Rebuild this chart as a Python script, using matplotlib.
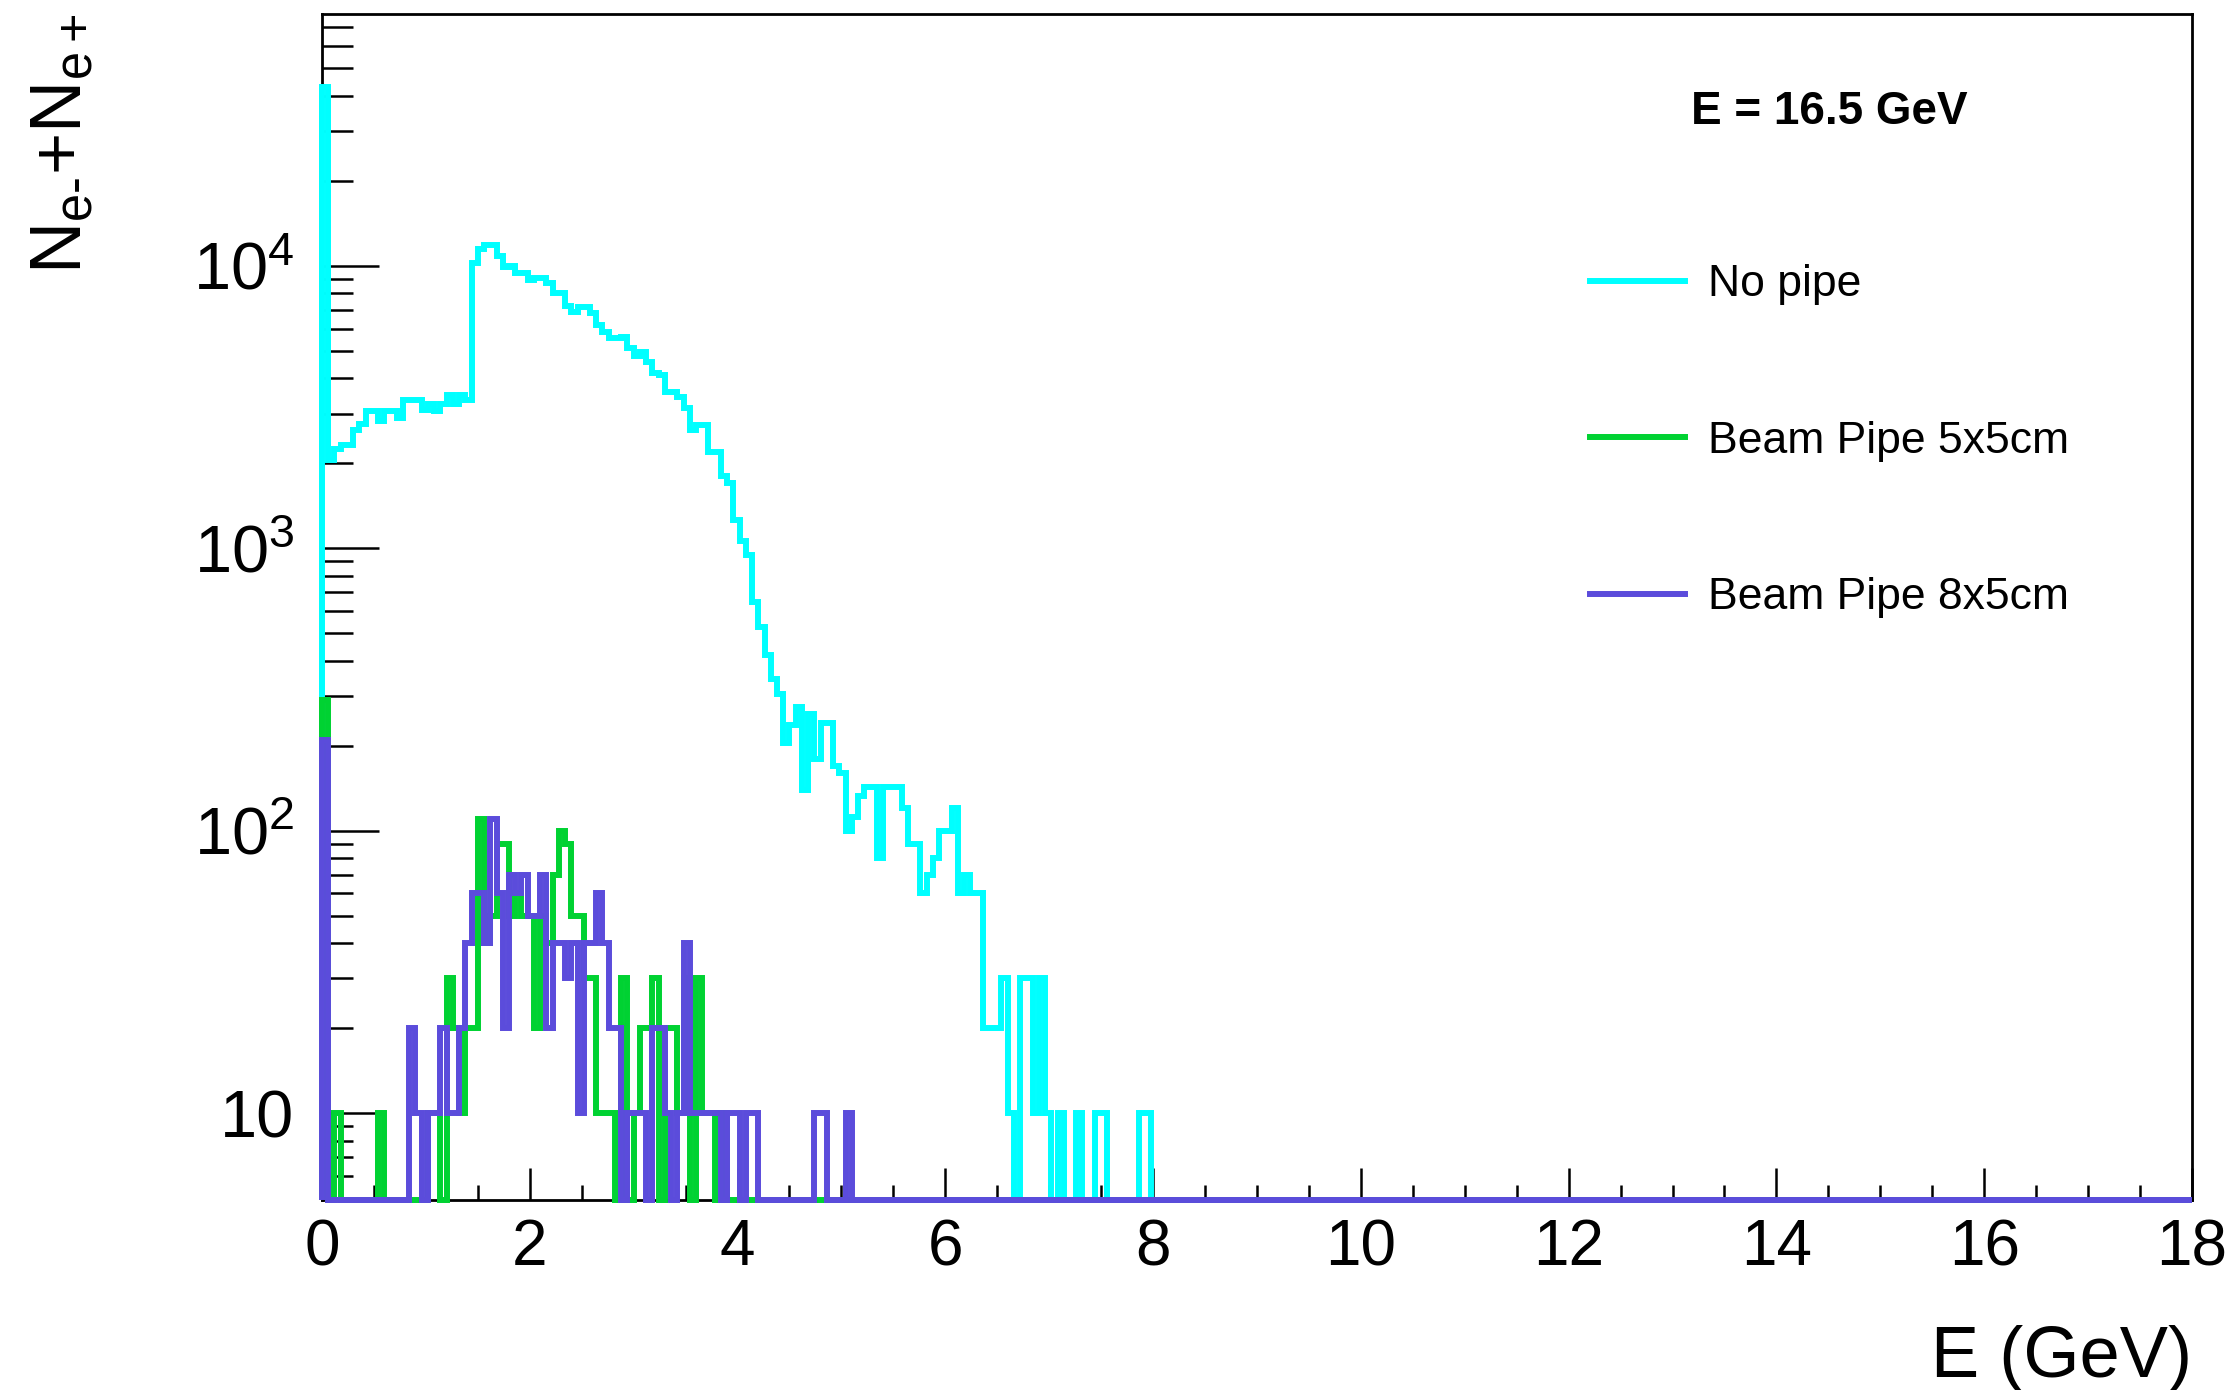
import matplotlib
matplotlib.use("Agg")

import matplotlib.pyplot as plt
import numpy as np
from matplotlib.ticker import MultipleLocator, LogLocator, NullFormatter

plt.rcParams["font.family"] = ["Liberation Sans", "DejaVu Sans"]
plt.rcParams["mathtext.fontset"] = "custom"
plt.rcParams["mathtext.rm"] = "Liberation Sans"
plt.rcParams["mathtext.it"] = "Liberation Sans:italic"
plt.rcParams["mathtext.bf"] = "Liberation Sans:bold"

# histogram binning: 300 bins of 0.06 GeV between 0 and 18 GeV
e_min, e_max, n_bins = 0.0, 18.0, 300

# bin contents from the first bin onward (remaining bins are empty)
no_pipe = [
    43000, 2060, 2240, 2330, 2330, 2630, 2750, 3060, 3060, 2820,
    3060, 3060, 2900, 3360, 3360, 3360, 3090, 3250, 3060, 3250,
    3500, 3250, 3500, 3360, 10200, 11500, 11900, 11900, 10800, 9900,
    10000, 9440, 9440, 8930, 9060, 9060, 8700, 8030, 8030, 7230,
    6880, 7160, 7160, 6820, 6180, 5850, 5560, 5560, 5620, 5130,
    4780, 4970, 4580, 4180, 4120, 3590, 3590, 3440, 3150, 2630,
    2740, 2740, 2200, 2200, 1800, 1710, 1260, 1060, 950, 645,
    525, 418, 345, 306, 204, 237, 275, 140, 260, 180,
    240, 240, 170, 160, 100, 112, 133, 143, 143, 80,
    143, 143, 143, 120, 90, 90, 60, 70, 80, 100,
    100, 120, 60, 70, 60, 60, 20, 20, 20, 30,
    10, 0, 30, 30, 10, 30, 10, 0, 10, 0,
    0, 10, 0, 0, 10, 10, 0, 0, 0, 0,
    0, 10, 10,
]
pipe_5x5 = [
    290, 0, 10, 0, 0, 0, 0, 0, 0, 10,
    0, 0, 0, 0, 0, 0, 0, 10, 10, 0,
    30, 20, 10, 20, 20, 110, 40, 50, 90, 90,
    50, 60, 50, 50, 20, 50, 40, 70, 100, 90,
    50, 50, 30, 30, 10, 10, 10, 0, 30, 0,
    10, 20, 20, 30, 0, 20, 20, 10, 30, 0,
    30, 10, 10, 0, 10,
]
pipe_8x5 = [
    210, 0, 0, 0, 0, 0, 0, 0, 0, 0,
    0, 0, 0, 0, 20, 10, 0, 10, 10, 20,
    10, 10, 20, 40, 60, 60, 40, 110, 60, 20,
    70, 60, 70, 50, 50, 70, 20, 40, 40, 30,
    40, 10, 40, 40, 60, 40, 20, 20, 0, 10,
    10, 10, 0, 20, 20, 10, 0, 10, 40, 10,
    10, 10, 10, 10, 0, 10, 10, 0, 10, 10,
    0, 0, 0, 0, 0, 0, 0, 0, 0, 10,
    10, 0, 0, 0, 10,
]

labels = ["No pipe", "Beam Pipe 5x5cm", "Beam Pipe 8x5cm"]
colors = ["#00ffff", "#00d232", "#5b4cdb"]
beam_label = "E = 16.5 GeV"

y_lo, y_hi = 4.93, 78000
lw = 4.3


def _full(values):
    v = np.zeros(n_bins)
    v[:len(values)] = values
    # empty bins are drawn on the lower frame edge, like ROOT does on log axes
    return np.where(v > 0, v, y_lo)


fig = plt.figure(figsize=(22.39, 13.90), dpi=100)
ax = fig.add_axes([0.1438, 0.1367, 0.979 - 0.1438, 0.990 - 0.1367])

edges = np.linspace(e_min, e_max, n_bins + 1)
for vals, lab, col in zip([no_pipe, pipe_5x5, pipe_8x5], labels, colors):
    ax.stairs(_full(vals), edges, baseline=y_lo, color=col, linewidth=lw,
              label=lab, zorder=3, clip_on=False)

ax.set_yscale("log")
ax.set_xlim(e_min, e_max)
ax.set_ylim(y_lo, y_hi)

ax.set_xticks(np.arange(0, 19, 2))
ax.set_xticklabels([str(v) for v in range(0, 19, 2)])
ax.xaxis.set_minor_locator(MultipleLocator(0.5))
ax.set_yticks([10, 100, 1000, 10000])
ax.set_yticklabels(["10", r"$10^{2}$", r"$10^{3}$", r"$10^{4}$"])
ax.yaxis.set_minor_locator(LogLocator(base=10, subs=np.arange(2, 10)))
ax.yaxis.set_minor_formatter(NullFormatter())

ax.tick_params(axis="x", which="major", direction="in", length=23, width=1.8,
               labelsize=46, pad=13, top=False)
ax.tick_params(axis="x", which="minor", direction="in", length=11, width=1.8, top=False)
ax.tick_params(axis="y", which="major", direction="in", length=41, width=1.8,
               labelsize=48, pad=20, right=False)
ax.tick_params(axis="y", which="minor", direction="in", length=22, width=1.8, right=False)
for s in ax.spines.values():
    s.set_linewidth(2.0)

fig.text(0.979, 0.0094, "E (GeV)", ha="right", va="baseline", fontsize=52)
fig.text(0.028, 0.99, r"$\mathrm{N_{e\text{-}}{+}N_{e+}}$", rotation=90,
         ha="center", va="top", fontsize=52)

leg_handles = [plt.Line2D([], [], color=c, linewidth=lw) for c in colors]
leg = ax.legend(leg_handles, labels, loc="upper left", bbox_to_anchor=(0.678, 0.936),
                frameon=False, fontsize=32, handlelength=2.15, handletextpad=0.5,
                labelspacing=2.6, borderpad=0, borderaxespad=0,
                title=beam_label, title_fontproperties={"size": 33, "weight": "bold"})
leg._legend_box.sep = 94

fig.savefig("out.png", dpi=100)
plt.close(fig)
